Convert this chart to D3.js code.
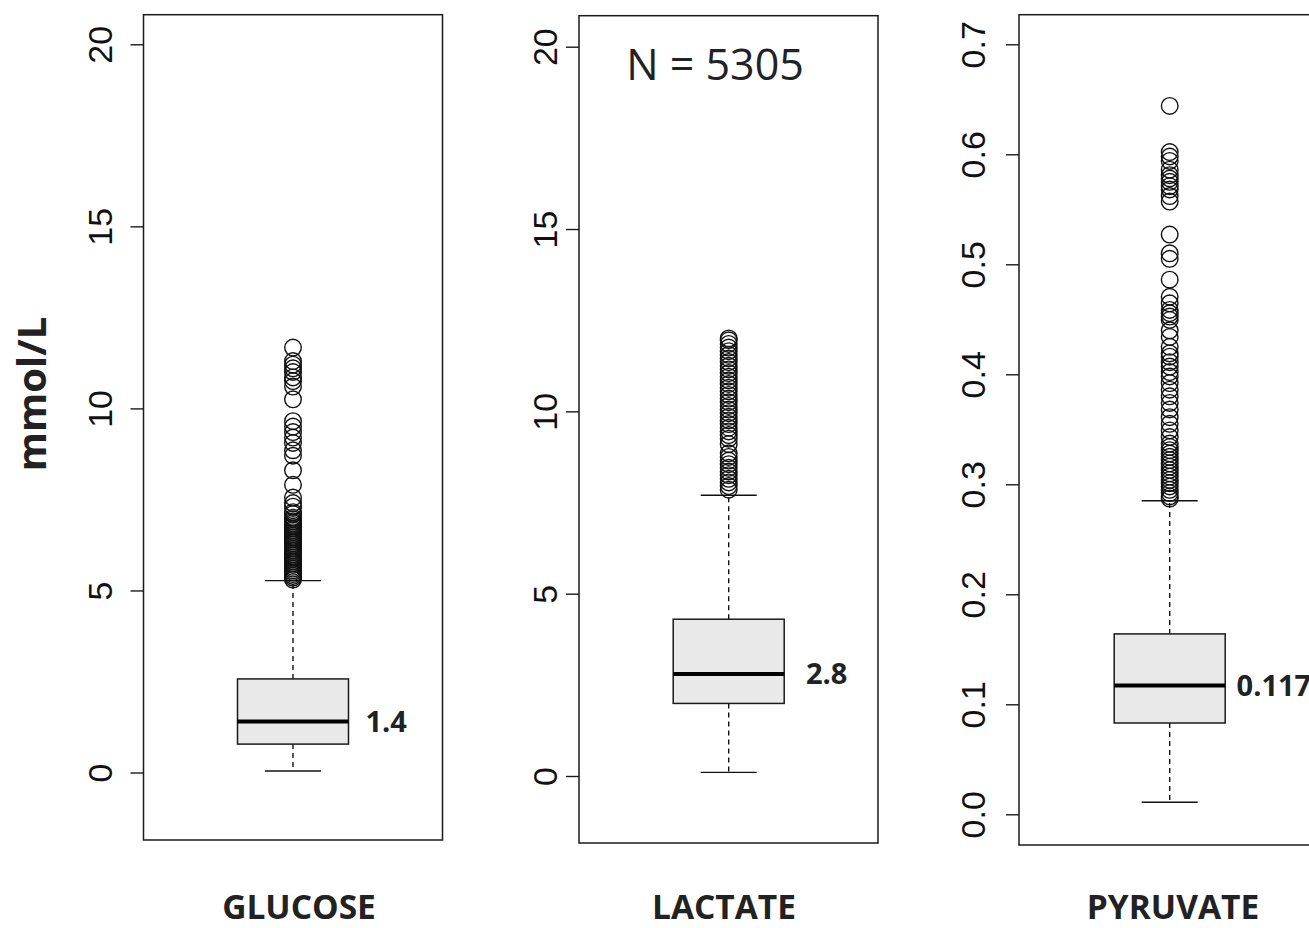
<!DOCTYPE html>
<html>
<head>
<meta charset="utf-8">
<script src="https://cdn.jsdelivr.net/npm/d3@7"></script>
<style>
  body { margin: 0; background: #fff; }
  svg { display: block; }
</style>
</head>
<body>
<svg id="chart"></svg>
<script>
// data
const panelNames = ["GLUCOSE", "LACTATE", "PYRUVATE"];
const medians = [1.4, 2.8, 0.117];
const medianLabels = ["1.4", "2.8", "0.117"];
const q1s = [0.78, 1.99, 0.083];
const q3s = [2.57, 4.3, 0.164];
const whiskerLow = [0.04, 0.1, 0.011];
const whiskerHigh = [5.27, 7.7, 0.285];

const glucoseTicks = [0, 5, 10, 15, 20];
const lactateTicks = [0, 5, 10, 15, 20];
const pyruvateTicks = [0.0, 0.1, 0.2, 0.3, 0.4, 0.5, 0.6, 0.7];

const glucoseOutliers = [11.67, 11.3, 11.2, 11.1, 11.0, 10.85, 10.75, 10.6, 10.25,
  9.65, 9.5, 9.35, 9.2, 9.05, 8.85, 8.7, 8.3, 7.9, 7.55, 7.4, 7.3, 7.15, 7.1,
  7.0, 6.95, 6.9, 6.85, 6.8, 6.75, 6.7, 6.65, 6.6, 6.55, 6.5, 6.45, 6.4, 6.35,
  6.3, 6.25, 6.2, 6.15, 6.1, 6.05, 6.0, 5.95, 5.9, 5.85, 5.8, 5.75, 5.7, 5.65,
  5.6, 5.55, 5.5, 5.45, 5.4, 5.35, 5.3];
const lactateOutliers = [12.0, 11.95, 11.85, 11.75, 11.65, 11.55, 11.45, 11.35,
  11.25, 11.15, 11.05, 10.95, 10.85, 10.75, 10.65, 10.55, 10.45, 10.35, 10.25,
  10.15, 10.05, 9.95, 9.85, 9.75, 9.65, 9.55, 9.45, 9.35, 9.25, 9.1, 8.85, 8.75,
  8.65, 8.55, 8.45, 8.35, 8.25, 8.15, 8.05, 7.95, 7.85];
const pyruvateOutliers = [0.644, 0.602, 0.598, 0.594, 0.586, 0.581, 0.578, 0.575,
  0.571, 0.568, 0.562, 0.557, 0.527, 0.51, 0.505, 0.486, 0.4705, 0.4645, 0.4585,
  0.4555, 0.4525, 0.4494, 0.44, 0.434, 0.425, 0.419, 0.416, 0.411, 0.407, 0.402,
  0.398, 0.392, 0.386, 0.38, 0.374, 0.368, 0.361, 0.355, 0.349, 0.343, 0.337,
  0.334, 0.331, 0.328, 0.325, 0.322, 0.319, 0.316, 0.313, 0.31, 0.307, 0.304,
  0.301, 0.298, 0.295, 0.292, 0.289, 0.287];

const sampleText = "N = 5305";
const yTitle = "mmol/L";

const W = 1309, H = 928;
const svg = d3.select("#chart").attr("width", W).attr("height", H);

// per-panel layout (frame box, where the tick values sit, box centre)
const layout = [
  { left: 143.5, right: 442.5, top: 14.7, bottom: 840, v0: 0, y0: 772.5, v1: 20, y1: 44.3, cx: 293, labelOff: -31.5, medDx: 17, nameX: 299 },
  { left: 579, right: 878, top: 15.7, bottom: 843, v0: 0, y0: 776, v1: 20, y1: 46.7, cx: 728.7, labelOff: -22, medDx: 21.7, nameX: 724 },
  { left: 1019, right: 1340, top: 14.7, bottom: 845, v0: 0, y0: 814.3, v1: 0.7, y1: 44.3, cx: 1169.7, labelOff: -34, medDx: 11.4, nameX: 1173 }
];
const tickSets = [glucoseTicks, lactateTicks, pyruvateTicks];
const outlierSets = [glucoseOutliers, lactateOutliers, pyruvateOutliers];
const tickFormats = [d3.format("d"), d3.format("d"), d3.format(".1f")];

const boxHalf = 55.5, capHalf = 28;

panelNames.forEach((name, i) => {
  const L = layout[i];
  const y = d3.scaleLinear().domain([L.v0, L.v1]).range([L.y0, L.y1]);
  const g = svg.append("g");

  // frame
  g.append("rect")
    .attr("x", L.left).attr("y", L.top)
    .attr("width", L.right - L.left).attr("height", L.bottom - L.top)
    .attr("fill", "none").attr("stroke", "#1a1a1a").attr("stroke-width", 1.5);

  // y axis
  const ax = g.append("g")
    .attr("transform", `translate(${L.left},0)`)
    .call(d3.axisLeft(y).tickValues(tickSets[i]).tickFormat(tickFormats[i])
      .tickSize(13).tickSizeOuter(0));
  ax.select(".domain").remove();
  ax.selectAll(".tick line").attr("stroke", "#1a1a1a").attr("stroke-width", 1.4);
  ax.selectAll(".tick text")
    .attr("transform", "rotate(-90)")
    .attr("x", 0).attr("y", L.labelOff).attr("dy", 0)
    .attr("text-anchor", "middle")
    .attr("fill", "#111")
    .style("font-family", "'Liberation Sans', Arial, sans-serif")
    .style("font-size", "34px");

  // whiskers
  [[q3s[i], whiskerHigh[i]], [q1s[i], whiskerLow[i]]].forEach(([a, b]) => {
    g.append("line")
      .attr("x1", L.cx).attr("x2", L.cx)
      .attr("y1", y(a)).attr("y2", y(b))
      .attr("stroke", "#111").attr("stroke-width", 1.4)
      .attr("stroke-dasharray", "5,4");
    g.append("line")
      .attr("x1", L.cx - capHalf).attr("x2", L.cx + capHalf)
      .attr("y1", y(b)).attr("y2", y(b))
      .attr("stroke", "#111").attr("stroke-width", 1.4);
  });

  // box
  g.append("rect")
    .attr("x", L.cx - boxHalf).attr("y", y(q3s[i]))
    .attr("width", boxHalf * 2).attr("height", y(q1s[i]) - y(q3s[i]))
    .attr("fill", "#e9e9e9").attr("stroke", "#1a1a1a").attr("stroke-width", 1.5);
  g.append("line")
    .attr("x1", L.cx - boxHalf).attr("x2", L.cx + boxHalf)
    .attr("y1", y(medians[i])).attr("y2", y(medians[i]))
    .attr("stroke", "#000").attr("stroke-width", 4);

  // outliers
  g.selectAll("circle.out")
    .data(outlierSets[i])
    .join("circle")
    .attr("class", "out")
    .attr("cx", L.cx).attr("cy", d => y(d))
    .attr("r", 8.3)
    .attr("fill", "none").attr("stroke", "#111").attr("stroke-width", 1.4);

  // median label (the last one runs off the right edge, as in the original)
  g.append("text")
    .attr("x", L.cx + boxHalf + L.medDx).attr("y", y(medians[i]) + 10.5)
    .attr("fill", "#222")
    .style("font-family", "'Open Sans', sans-serif")
    .style("font-weight", 700).style("font-size", "29px")
    .text(medianLabels[i]);

  // category label under the panel
  svg.append("text")
    .attr("x", L.nameX).attr("y", 919)
    .attr("text-anchor", "middle")
    .attr("fill", "#222")
    .style("font-family", "'Open Sans', sans-serif")
    .style("font-weight", 700).style("font-size", "33.5px")
    .text(name);
});

// N = 5305 in the middle panel
svg.append("text")
  .attr("x", 715).attr("y", 80)
  .attr("text-anchor", "middle")
  .attr("fill", "#222")
  .style("font-family", "'Open Sans', sans-serif")
  .style("font-size", "43px")
  .text(sampleText);

// y title
svg.append("text")
  .attr("transform", "translate(46,394) rotate(-90)")
  .attr("text-anchor", "middle")
  .attr("fill", "#222")
  .style("font-family", "'Open Sans', sans-serif")
  .style("font-weight", 700).style("font-size", "40px")
  .text(yTitle);
</script>
</body>
</html>
